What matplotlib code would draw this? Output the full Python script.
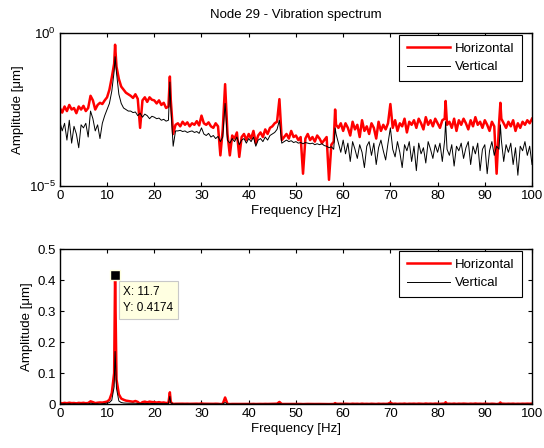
import numpy as np
import matplotlib
matplotlib.use('Agg')
import matplotlib.pyplot as plt
from matplotlib.ticker import LogFormatterSciNotation, NullLocator

plt.rcParams['font.family'] = ['Liberation Sans', 'DejaVu Sans']
plt.rcParams['mathtext.default'] = 'regular'

TITLE = 'Node 29 - Vibration spectrum'
SERIES = ['Horizontal', 'Vertical']

# 0.5 Hz grid, log10 amplitude [um]
freq = np.arange(0, 100.5, 0.5)
horiz_log = [
    -2.45, -2.60, -2.40, -2.55, -2.35, -2.50, -2.45, -2.62, -2.40, -2.50,
    -2.38, -2.55, -2.45, -2.05, -2.20, -2.50, -2.35, -2.28, -2.32, -2.20,
    -2.10, -1.85, -1.45, -1.00, -1.10, -1.50, -1.75, -1.85, -1.95, -2.00,
    -2.05, -2.12, -2.00, -2.15, -3.10, -2.20, -2.10, -2.25, -2.10, -2.18,
    -2.20, -2.30, -2.20, -2.35, -2.28, -2.45, -2.40, -2.20, -3.30, -3.00,
    -2.95, -3.05, -2.90, -3.00, -2.92, -3.05, -2.95, -3.00, -2.88, -3.02,
    -2.70, -2.95, -3.00, -2.92, -3.05, -3.10, -2.95, -3.05, -4.00, -3.15,
    -1.67, -3.30, -4.00, -3.35, -3.45, -3.25, -4.05, -3.40, -3.30, -3.50,
    -3.30, -3.45, -3.20, -3.60, -3.35, -3.25, -3.40, -3.15, -3.30, -3.10,
    -3.05, -2.95, -2.90, -2.16, -3.50, -3.40, -3.30, -3.45, -3.20, -3.40,
    -3.35, -3.50, -3.40, -4.60, -3.45, -3.30, -3.50, -3.40, -3.55, -3.35,
    -3.45, -3.60, -3.50, -3.40, -4.80, -3.65, -3.55, -3.00, -3.10, -2.95,
    -3.20, -2.95, -3.10, -3.35, -2.90, -3.15, -3.00, -3.40, -2.85, -3.20,
    -3.05, -3.30, -2.95, -3.10, -3.45, -2.90, -3.20, -3.00, -3.15, -2.95,
    -2.32, -3.10, -2.85, -3.20, -2.95, -3.05, -2.80, -3.25, -2.90, -3.00,
    -2.85, -3.10, -2.80, -2.95, -3.15, -2.75, -3.00, -2.85, -3.05, -2.80,
    -2.95, -3.10, -2.85, -2.80, -3.00, -2.90, -3.10, -2.80, -3.20, -2.85,
    -3.00, -2.80, -2.95, -3.15, -2.85, -3.05, -2.75, -3.00, -2.90, -3.10,
    -2.85, -3.00, -3.20, -2.90, -3.05, -4.60, -3.00, -2.80, -2.95, -3.10,
    -2.90, -3.05, -2.85, -3.20, -2.95, -3.10, -2.90, -3.00, -2.85, -2.95,
    -2.80,
]
vert_log = [
    -2.90, -3.20, -2.95, -3.50, -2.85, -3.60, -3.05, -3.30, -3.75, -3.00,
    -3.10, -2.95, -3.40, -2.55, -2.80, -3.20, -3.00, -3.45, -2.95, -2.70,
    -2.50, -2.30, -1.90, -1.25, -1.30, -2.00, -2.30, -2.45, -2.50, -2.55,
    -2.55, -2.60, -2.58, -2.70, -2.62, -2.75, -2.65, -2.70, -2.80, -2.72,
    -2.75, -2.80, -2.78, -2.85, -2.82, -2.88, -2.85, -2.40, -3.70, -3.20,
    -3.20, -3.18, -3.22, -3.20, -3.25, -3.22, -3.20, -3.25, -3.22, -3.28,
    -3.10, -3.30, -3.35, -3.28, -3.40, -3.35, -3.45, -3.38, -3.55, -3.40,
    -2.30, -3.50, -3.60, -3.45, -3.55, -3.40, -3.65, -3.50, -3.45, -3.60,
    -3.45, -3.55, -3.40, -3.70, -3.50, -3.45, -3.55, -3.40, -3.50, -3.35,
    -3.30, -3.25, -3.15, -2.85, -3.60, -3.55, -3.50, -3.55, -3.52, -3.58,
    -3.55, -3.60, -3.58, -3.62, -3.58, -3.60, -3.62, -3.60, -3.65, -3.62,
    -3.65, -3.62, -3.68, -3.70, -3.75, -3.72, -3.80, -3.30, -3.60, -3.90,
    -3.50, -3.95, -3.60, -4.20, -3.55, -3.80, -4.10, -3.65, -3.90, -4.40,
    -3.70, -3.55, -4.00, -3.60, -4.30, -3.75, -3.50, -3.85, -4.15, -3.60,
    -3.10, -3.80, -4.05, -3.55, -3.90, -4.40, -3.65, -3.85, -3.55, -4.20,
    -3.70, -4.50, -3.60, -3.95, -3.75, -4.25, -3.55, -3.80, -4.10, -3.65,
    -3.90, -3.60, -4.20, -3.50, -3.80, -4.00, -3.65, -4.35, -3.70, -3.85,
    -3.60, -4.10, -3.75, -3.55, -4.30, -3.70, -3.95, -3.60, -4.50, -3.80,
    -3.65, -4.60, -3.85, -3.55, -4.00, -3.70, -3.80, -3.50, -4.20, -3.65,
    -3.90, -3.60, -4.30, -3.75, -4.65, -3.70, -3.85, -3.55, -4.00, -3.70,
    -4.30,
]
# harmonic peaks that fall between grid points
peak_freq = [11.7, 23.3, 58.3, 81.7, 93.3]
peak_horiz_log = [-0.3794, -1.42, -2.50, -2.22, -2.28]
peak_vert_log = [-0.77, -1.60, -3.10, -2.90, -3.00]

# data tip
tip_x, tip_y = 11.7, 0.4174


def merged(grid_vals, peak_vals):
    f = np.concatenate([freq, peak_freq])
    v = np.concatenate([grid_vals, peak_vals])
    order = np.argsort(f)
    return f[order], 10.0 ** v[order]


fh, ah = merged(horiz_log, peak_horiz_log)
fv, av = merged(vert_log, peak_vert_log)

FS = 9.5
fig = plt.figure(figsize=(5.44, 4.48), dpi=100)
ax1 = fig.add_axes([0.110, 0.585, 0.868, 0.341])
ax2 = fig.add_axes([0.110, 0.098, 0.868, 0.346])

for ax in (ax1, ax2):
    ax.plot(fh, ah, color='#ff0000', lw=1.8, label=SERIES[0])
    ax.plot(fv, av, color='black', lw=0.7, label=SERIES[1])
    ax.set_xlim(0, 100)
    ax.set_xticks(np.arange(0, 101, 10))
    ax.tick_params(direction='in', top=True, right=True, labelsize=FS,
                   length=3, width=0.8, pad=3)
    for s in ax.spines.values():
        s.set_linewidth(1.0)
    ax.set_xlabel('Frequency [Hz]', fontsize=FS, labelpad=2)
    ax.set_ylabel('Amplitude [μm]', fontsize=FS, labelpad=3)
    leg = ax.legend(loc='upper right', bbox_to_anchor=(0.979, 0.987),
                    fontsize=FS, fancybox=False, framealpha=1,
                    edgecolor='black', borderaxespad=0, handlelength=3.3,
                    handletextpad=0.4, borderpad=0.55, labelspacing=0.5)
    leg.get_frame().set_linewidth(0.8)

ax1.set_yscale('log')
ax1.set_ylim(1e-5, 1)
ax1.set_yticks([1e-5, 1])
ax1.yaxis.set_major_formatter(LogFormatterSciNotation())
ax1.yaxis.set_minor_locator(NullLocator())
ax1.set_title(TITLE, fontsize=FS, pad=11)

ax2.set_ylim(0, 0.5)
ax2.set_yticks(np.arange(0, 0.51, 0.1))
ax2.set_yticklabels(['0', '0.1', '0.2', '0.3', '0.4', '0.5'])

ax2.plot([tip_x], [tip_y], marker='s', ms=7, color='black',
         mec='#ffffe0', mew=1, zorder=5)
ax2.annotate(f'X: {tip_x}\nY: {tip_y}', xy=(tip_x, tip_y),
             xytext=(6, -8), textcoords='offset points', va='top', ha='left',
             fontsize=8.5, linespacing=1.45,
             bbox=dict(boxstyle='square,pad=0.4', fc='#ffffe1',
                       ec='#c8c8c8', lw=0.8), zorder=6)

fig.savefig('out.png', dpi=100)
